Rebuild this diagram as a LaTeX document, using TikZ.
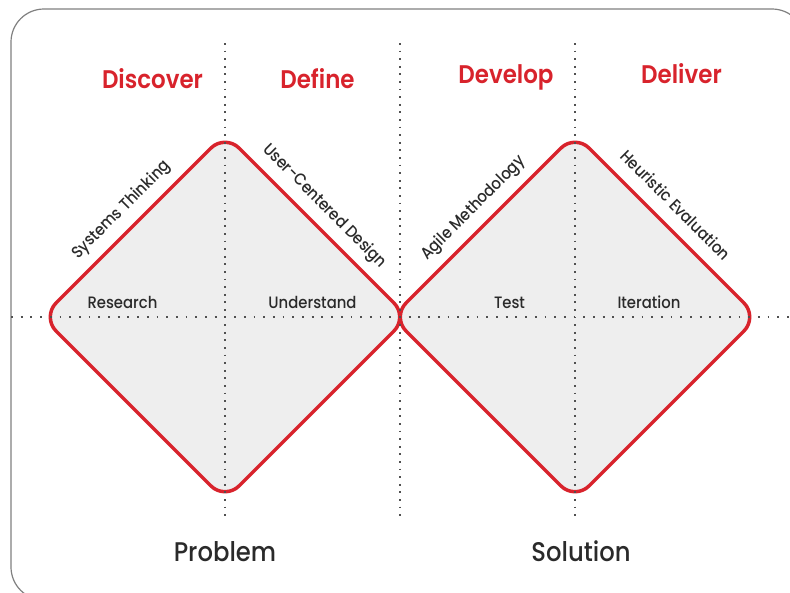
\documentclass[tikz,border=0pt]{standalone}
\usepackage{fontspec}
\setmainfont{Poppins}[FakeStretch=0.9]
\newfontfamily\medfont{Poppins Medium}[FakeStretch=0.9]
\newfontfamily\semifont{Poppins SemiBold}[FakeStretch=0.9]
\usetikzlibrary{calc}
\definecolor{ddred}{HTML}{D8232C}
\definecolor{ddfill}{HTML}{EEEEEE}
\definecolor{ddtext}{HTML}{2A2A2A}
\definecolor{dddot}{HTML}{505050}
\definecolor{ddframe}{HTML}{808080}

\begin{document}
\begin{tikzpicture}[x=1pt,y=-1pt,
  phase/.style={text=ddred, font=\semifont\fontsize{25.5}{28}\selectfont, anchor=base, inner sep=0pt},
  side/.style={text=ddtext, font=\medfont\fontsize{27}{30}\selectfont, anchor=base, inner sep=0pt},
  activity/.style={text=ddtext, font=\medfont\fontsize{16.5}{18}\selectfont, anchor=base, inner sep=0pt},
  edgelabel/.style={text=ddtext, font=\medfont\fontsize{16.5}{18}\selectfont, anchor=base, inner sep=0pt},
  diamondpath/.style={draw=ddred, fill=ddfill, line width=3.5pt, rounded corners=20pt, line join=round},
  guide/.style={draw=dddot, line width=1.8pt, dash pattern=on 1.8pt off 6pt}]

\useasboundingbox (0,0) rectangle (790,592);
\clip (0,0) rectangle (790,592);

% card outline
\draw[ddframe, line width=1.2pt, rounded corners=33pt] (11,9) rectangle (805,600);

% corner points of the two diamonds
\coordinate (pl) at (42,317);  \coordinate (pt) at (225,134);
\coordinate (pr) at (408,317); \coordinate (pb) at (225,500);
\coordinate (sl) at (392,317); \coordinate (st) at (575,134);
\coordinate (sr) at (758,317); \coordinate (sb) at (575,500);

\path[diamondpath] (pl) -- (pt) -- (pr) -- (pb) -- cycle;
\path[diamondpath] (sl) -- (st) -- (sr) -- (sb) -- cycle;

% dotted guide lines
\coordinate (h0) at (11,317);  \coordinate (h1) at (790,317);
\coordinate (v1a) at (225,43); \coordinate (v1b) at (225,520);
\coordinate (v2a) at (400,43); \coordinate (v2b) at (400,520);
\coordinate (v3a) at (575,43); \coordinate (v3b) at (575,520);
\draw[guide, dash pattern=on 1.8pt off 7.9pt] (h0) -- (h1);
\draw[guide, dash pattern=on 1.8pt off 5.8pt] (v1a) -- (v1b);
\draw[guide, dash pattern=on 1.8pt off 5.8pt] (v2a) -- (v2b);
\draw[guide, dash pattern=on 1.8pt off 5.8pt] (v3a) -- (v3b);

% phase titles
\node[phase] (discover) at (152.5,88) {Discover};
\node[phase] (define)   at (317.5,88) {Define};
\node[phase] (develop)  at (506,83)   {Develop};
\node[phase] (deliver)  at (681.5,83) {Deliver};

% activities inside the diamonds
\node[activity] (research)   at (122.5,308) {Research};
\node[activity] (understand) at (312.5,308) {Understand};
\node[activity] (test)       at (509.5,308) {Test};
\node[activity] (iteration)  at (649,308)   {Iteration};

% methods along the upper edges
\node[edgelabel, rotate=45]  (systems)   at (124.7,213.1) {Systems Thinking};
\node[edgelabel, rotate=-45] (ucd)       at (321.6,209.4) {User-Centered Design};
\node[edgelabel, rotate=45]  (agile)     at (476.6,211.2) {Agile Methodology};
\node[edgelabel, rotate=-45] (heuristic) at (671.6,209.4) {Heuristic Evaluation};

% problem / solution spaces
\node[side] (problem)  at (225,561) {Problem};
\node[side] (solution) at (581,561) {Solution};
\end{tikzpicture}
\end{document}
